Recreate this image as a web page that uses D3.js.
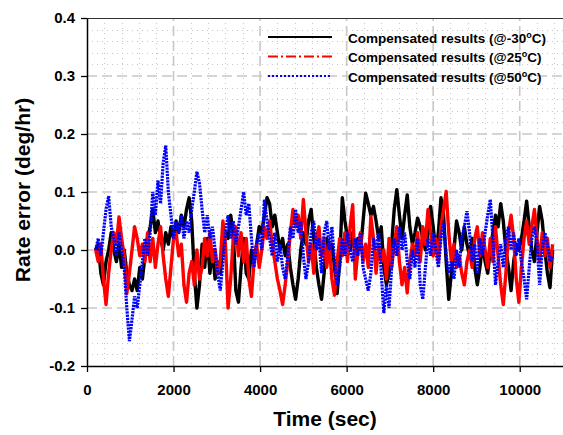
<!DOCTYPE html>
<html><head><meta charset="utf-8">
<script src="https://cdn.jsdelivr.net/npm/d3@7"></script>
<style>body{margin:0;background:#fff}svg{display:block}</style>
</head><body><svg id="c" width="563" height="435"></svg>
<script>
// time axis: first sample (s) and sample step (s)
const T_START = 200, T_STEP = 60;

const black = [
 0.000, 0.010,-0.040,-0.060,-0.020, 0.000, 0.030, 0.000,-0.020, 0.010,
-0.030, 0.000,-0.040,-0.060,-0.070,-0.050,-0.070,-0.030,-0.050,-0.010,
 0.020, 0.040, 0.070, 0.030, 0.050, 0.020, 0.000, 0.030, 0.010, 0.040,
 0.020, 0.050, 0.030, 0.060, 0.040, 0.070, 0.090, 0.050,-0.040,-0.100,
-0.060, 0.010,-0.030, 0.020,-0.040, 0.000,-0.050,-0.020,-0.040, 0.010,
 0.030, 0.020, 0.060, 0.030,-0.070,-0.090,-0.030, 0.020,-0.040,-0.050,
 0.000,-0.020, 0.010, 0.040, 0.030, 0.060, 0.090, 0.080, 0.040, 0.060,
 0.030, 0.000, 0.020,-0.010, 0.010,-0.030,-0.060,-0.085,-0.050, 0.000,
 0.030, 0.010, 0.050, 0.070, 0.020,-0.030,-0.060,-0.085,-0.040, 0.020,
-0.010, 0.010,-0.030,-0.075,-0.020, 0.090, 0.050, 0.020, 0.000, 0.030,
-0.010, 0.020, 0.000, 0.050, 0.098, 0.080, 0.060, 0.075, 0.050, 0.020,
 0.040,-0.030,-0.060,-0.040, 0.010, 0.070, 0.104, 0.060, 0.020, 0.060,
 0.095, 0.040, 0.010, 0.030, 0.055, 0.040, 0.020, 0.000, 0.030, 0.075,
 0.040, 0.000, 0.030, 0.090, 0.060,-0.020,-0.085,-0.040, 0.000, 0.050,
 0.030, 0.000, 0.040, 0.010,-0.010, 0.020,-0.030,-0.060,-0.030, 0.010,
-0.020,-0.040, 0.000, 0.030, 0.060, 0.040, 0.080, 0.050, 0.000,-0.030,
-0.070,-0.020, 0.010, 0.000, 0.020, 0.050, 0.084, 0.040, 0.000,-0.020,
 0.030, 0.075, 0.050, 0.000,-0.040,-0.065, 0.000
];
const red = [
 0.000,-0.020, 0.010,-0.050,-0.094,-0.040, 0.000, 0.030, 0.010, 0.057,
 0.020,-0.010,-0.075,-0.040, 0.000, 0.040, 0.020,-0.010, 0.010,-0.020,
 0.030,-0.020, 0.020,-0.030, 0.010, 0.040,-0.010,-0.050,-0.080,-0.030,
 0.020, 0.030,-0.010, 0.010,-0.060,-0.090,-0.040,-0.020,-0.060, 0.000,
-0.050,-0.030, 0.020,-0.010, 0.030,-0.020, 0.000,-0.040,-0.020, 0.050,
 0.010,-0.100,-0.050, 0.020, 0.040,-0.010, 0.030,-0.020, 0.020,-0.050,
-0.080,-0.020, 0.010,-0.030, 0.000, 0.040, 0.020, 0.050, 0.010,-0.020,
-0.050,-0.070,-0.094,-0.060,-0.020, 0.030, 0.070, 0.040, 0.060, 0.020,
 0.087, 0.030,-0.020, 0.010,-0.040, 0.020, 0.040,-0.010, 0.020,-0.030,
 0.010,-0.050,-0.078,-0.020, 0.020,-0.010, 0.030,-0.020, 0.040, 0.078,
-0.050, 0.000, 0.030,-0.020, 0.010,-0.030, 0.058, 0.020,-0.040, 0.010,
-0.020, 0.000,-0.050, 0.020,-0.030, 0.010, 0.040,-0.020,-0.060,-0.030,
-0.074,-0.020, 0.010,-0.010, 0.030,-0.020, 0.040, 0.010, 0.070, 0.030,
-0.010, 0.020,-0.020, 0.040, 0.070, 0.101, 0.030,-0.020, 0.010,-0.030,
-0.010,-0.040,-0.060,-0.020, 0.000,-0.030, 0.020, 0.040,-0.010, 0.030,
 0.000,-0.030, 0.020,-0.020, 0.040,-0.010,-0.060,-0.094,-0.040, 0.030,
 0.060, 0.020,-0.050,-0.090,-0.030, 0.020, 0.050, 0.010, 0.040, 0.070,
 0.020,-0.020, 0.030,-0.010, 0.020,-0.030, 0.010
];
const blue = [
 0.000, 0.020,-0.010, 0.030, 0.070, 0.093, 0.040, 0.020,-0.010, 0.030,
 0.000,-0.030,-0.100,-0.157,-0.120,-0.080,-0.100,-0.060,-0.020, 0.020,
-0.010, 0.030, 0.100, 0.060, 0.120, 0.080, 0.150, 0.180, 0.100, 0.060,
 0.020, 0.050, 0.030, 0.060, 0.020, 0.050, 0.030, 0.070, 0.100, 0.135,
 0.115, 0.070, 0.030, 0.060, 0.020, 0.040, 0.000,-0.040,-0.070,-0.020,
 0.030, 0.060, 0.020, 0.050, 0.010, 0.040, 0.070, 0.100, 0.060, 0.080,
 0.020,-0.030, 0.010, 0.030, 0.000, 0.087, 0.050, 0.020,-0.010, 0.030,
-0.020, 0.010,-0.030,-0.050,-0.010, 0.040, 0.020, 0.070, 0.030, 0.050,
-0.010,-0.050,-0.020, 0.030, 0.050, 0.000, 0.020,-0.040, 0.030, 0.050,
 0.000, 0.040,-0.020,-0.060,-0.030, 0.020,-0.010, 0.030, 0.000,-0.020,
 0.020,-0.010, 0.030,-0.030,-0.050,-0.070,-0.040, 0.020, 0.000, 0.030,
-0.040,-0.109,-0.060,-0.100,-0.030, 0.020,-0.010, 0.040, 0.000, 0.030,
-0.020,-0.050, 0.000,-0.030, 0.020,-0.060,-0.085,-0.030, 0.020,-0.010,
 0.030, 0.000,-0.030, 0.020, 0.050,-0.010,-0.040,-0.020,-0.050, 0.000,
-0.030, 0.020, 0.040, 0.067, 0.030,-0.020, 0.010,-0.040, 0.020,-0.010,
 0.030, 0.060, 0.087, 0.020,-0.060,-0.020, 0.010,-0.030, 0.020, 0.040,
 0.000, 0.030,-0.010, 0.020,-0.020,-0.050,-0.085,-0.030, 0.020, 0.040,
 0.010,-0.060, 0.000, 0.030, 0.010,-0.020,-0.010
];

const xTicks = [0, 2000, 4000, 6000, 8000, 10000];
const yTicks = [-0.2, -0.1, 0.0, 0.1, 0.2, 0.3, 0.4];
const legendTemps = ["-30", "25", "50"];
const xTitle = "Time (sec)";
const yTitle = "Rate error (deg/hr)";

const svg = d3.select("#c");
const L = 87, R = 563, T = 18, B = 366;
const x = d3.scaleLinear().domain([0, 11000]).range([L, R]);
const y = d3.scaleLinear().domain([-0.2, 0.4]).range([B, T]);

// minor grid
const xMinor = d3.range(400, 11000, 400).filter(v => v % 2000 !== 0);
const yMinor = d3.range(-0.18, 0.4, 0.02).filter(v => Math.abs(Math.round(v * 10) - v * 10) > 1e-6);
const g = svg.append("g");
g.selectAll(".xm").data(xMinor).enter().append("line")
  .attr("x1", d => Math.round(x(d)) + 0.5).attr("x2", d => Math.round(x(d)) + 0.5)
  .attr("y1", T).attr("y2", B)
  .attr("stroke", "#c8c8c8").attr("stroke-width", 1).attr("stroke-dasharray", "1,4");
g.selectAll(".ym").data(yMinor).enter().append("line")
  .attr("y1", d => Math.round(y(d)) + 0.5).attr("y2", d => Math.round(y(d)) + 0.5)
  .attr("x1", L).attr("x2", R)
  .attr("stroke", "#c8c8c8").attr("stroke-width", 1).attr("stroke-dasharray", "1,4");
// major grid
g.selectAll(".xM").data(xTicks.filter(v => v > 0)).enter().append("line")
  .attr("x1", d => x(d)).attr("x2", d => x(d)).attr("y1", B).attr("y2", T)
  .attr("stroke", "#c8c8c8").attr("stroke-width", 1.6).attr("stroke-dasharray", "10,5");
g.selectAll(".yM").data(yTicks.filter(v => v > -0.2 && v < 0.4)).enter().append("line")
  .attr("y1", d => y(d)).attr("y2", d => y(d)).attr("x1", L).attr("x2", R)
  .attr("stroke", "#c8c8c8").attr("stroke-width", 1.6).attr("stroke-dasharray", "10,5");

// clip
svg.append("clipPath").attr("id", "clip").append("rect")
  .attr("x", L).attr("y", T).attr("width", R - L).attr("height", B - T);

const line = d3.line().x((d, i) => x(T_START + i * T_STEP)).y(d => y(d));
const dataG = svg.append("g").attr("clip-path", "url(#clip)");
dataG.append("path").datum(black).attr("d", line)
  .attr("fill", "none").attr("stroke", "#000").attr("stroke-width", 3.4).attr("stroke-linejoin", "round");
dataG.append("path").datum(red).attr("d", line)
  .attr("fill", "none").attr("stroke", "#ff0000").attr("stroke-width", 3.4).attr("stroke-linejoin", "round");
dataG.append("path").datum(blue).attr("d", line)
  .attr("fill", "none").attr("stroke", "#0000ff").attr("stroke-width", 3.2).attr("stroke-dasharray", "2.2,1");

// frame
svg.append("line").attr("x1", L).attr("x2", R).attr("y1", T + 0.5).attr("y2", T + 0.5)
  .attr("stroke", "#333").attr("stroke-width", 1.2);

// axes
const yAxis = d3.axisLeft(y).tickValues(yTicks).tickSize(6).tickSizeOuter(0).tickPadding(6)
  .tickFormat(d => d.toFixed(1));
const xAxis = d3.axisBottom(x).tickValues(xTicks).tickSize(6).tickSizeOuter(0).tickPadding(12)
  .tickFormat(d => String(d));
const ya = svg.append("g").attr("transform", `translate(${L},0)`).call(yAxis);
const xa = svg.append("g").attr("transform", `translate(0,${B})`).call(xAxis);
[ya, xa].forEach(a => {
  a.select(".domain").attr("stroke", "#000").attr("stroke-width", 1.5);
  a.selectAll(".tick line").attr("stroke", "#000").attr("stroke-width", 1.3);
  a.selectAll("text").attr("font-family", "Liberation Sans, Arial, sans-serif")
    .attr("font-weight", "bold").attr("font-size", 15).attr("fill", "#000");
});

// titles
svg.append("text").attr("x", 325).attr("y", 426).attr("text-anchor", "middle")
  .attr("font-family", "Liberation Sans, Arial, sans-serif").attr("font-weight", "bold")
  .attr("font-size", 21).text(xTitle);
svg.append("text").attr("transform", `translate(30,190) rotate(-90)`).attr("text-anchor", "middle")
  .attr("font-family", "Liberation Sans, Arial, sans-serif").attr("font-weight", "bold")
  .attr("font-size", 21).text(yTitle);

// legend
const styles = [
  {c: "#000", dash: null, w: 2},
  {c: "#ff0000", dash: "10,3,2,3", w: 2},
  {c: "#0000ff", dash: "2,2", w: 2}
];
legendTemps.forEach((tmp, i) => {
  const yy = 37 + i * 19.5;
  svg.append("line").attr("x1", 268).attr("x2", 332).attr("y1", yy).attr("y2", yy)
    .attr("stroke", styles[i].c).attr("stroke-width", styles[i].w)
    .attr("stroke-dasharray", styles[i].dash);
  const t = svg.append("text").attr("x", 348).attr("y", yy + 5.5)
    .attr("font-family", "Liberation Sans, Arial, sans-serif").attr("font-weight", "bold")
    .attr("font-size", 13.5).attr("fill", "#000");
  t.append("tspan").text(`Compensated results (@${tmp}`);
  t.append("tspan").attr("font-size", 9).attr("dy", -5).text("o");
  t.append("tspan").attr("dy", 5).text("C)");
});
</script></body></html>
